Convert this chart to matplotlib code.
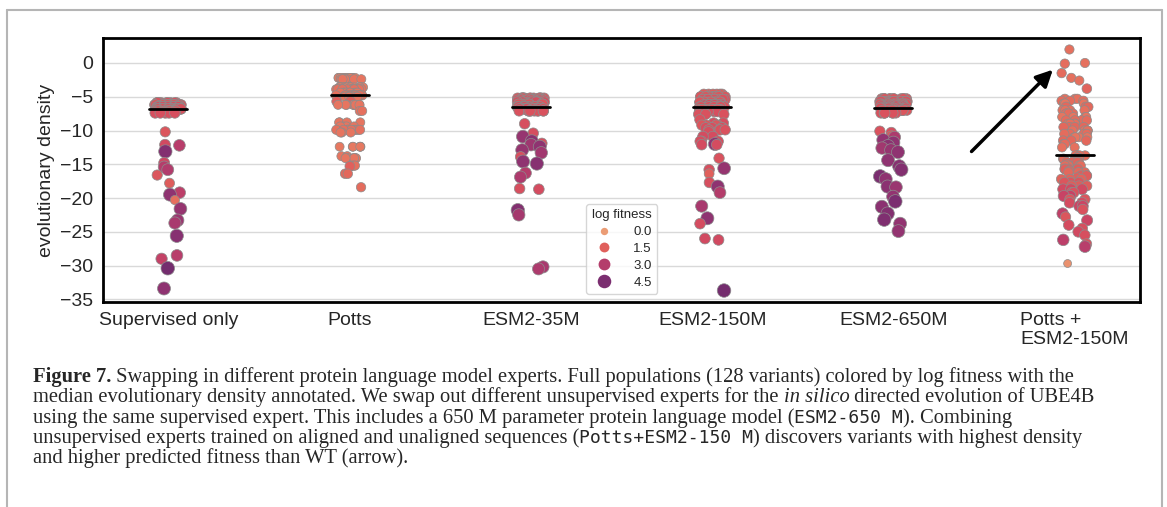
import numpy as np
import matplotlib.pyplot as plt
import seaborn as sns
from matplotlib.colors import Normalize
from matplotlib.lines import Line2D

categories = ["Supervised only", "Potts", "ESM2-35M", "ESM2-150M", "ESM2-650M", "Potts +\nESM2-150M"]

# evolutionary density of each variant, its log fitness, and how many variants share it
sup_y = [-5.9, -6.2, -6.5, -6.8, -7.1, -7.4, -10.2, -12.1, -12.2, -13.1, -14.8, -15.4, -15.8, -16.6,
         -17.8, -19.2, -19.5, -20.3, -21.6, -23.3, -23.7, -25.6, -28.5, -29.0, -30.4, -33.4]
sup_fit = [1.9, 1.8, 2.0, 1.9, 1.8, 2.0, 1.8, 2.2, 2.9, 4.3, 2.3, 3.0, 3.1, 1.8,
           1.6, 2.8, 4.0, 1.1, 3.8, 3.7, 3.3, 4.2, 2.9, 2.6, 4.7, 4.0]
sup_n = [10, 20, 25, 30, 18, 5] + [1] * 20

potts_y = [-2.2, -2.4, -3.6, -3.9, -4.4, -4.8, -5.0, -5.7, -6.2, -7.1, -8.7, -8.8, -9.4, -9.9,
           -10.3, -12.4, -13.8, -14.1, -15.2, -15.3, -16.4, -18.4]
potts_fit = [0.9, 1.0, 0.9, 1.1, 1.0, 1.1, 1.0, 1.5, 1.0, 1.1, 0.3, 1.0, 1.0, 1.1,
             1.0, 0.9, 1.0, 1.0, 1.1, 1.5, 1.3, 1.2]
potts_n = [12, 6, 14, 12, 10, 12, 8, 2, 8, 2, 1, 3, 4, 10, 3, 6, 2, 6, 3, 1, 2, 1]

esm35_y = [-5.2, -5.5, -5.8, -6.1, -6.5, -6.8, -7.1, -9.0, -10.4, -10.9, -11.6, -11.9, -12.1, -12.4,
           -12.9, -13.3, -13.9, -14.6, -14.9, -16.3, -16.9, -18.6, -18.7, -21.8, -22.5, -30.2, -30.5]
esm35_fit = [1.8, 1.9, 2.0, 1.8, 1.9, 2.0, 1.9, 2.0, 2.0, 3.8, 4.1, 2.0, 3.6, 4.0,
             3.8, 3.5, 2.0, 4.0, 4.2, 3.0, 3.2, 2.0, 2.1, 4.3, 3.4, 3.3, 3.2]
esm35_n = [15, 20, 15, 12, 20, 16, 10] + [1] * 20

esm150_y = [-4.6, -5.0, -5.4, -5.8, -6.2, -6.5, -6.9, -7.2, -7.6, -8.4, -8.9, -9.2, -9.6, -9.9,
            -10.2, -10.9, -11.6, -12.0, -12.1, -14.1, -15.6, -15.8, -16.4, -17.7, -18.3, -19.2,
            -21.2, -23.0, -23.8, -26.0, -26.2, -33.7]
esm150_fit = [1.6, 1.8, 1.9, 1.8, 2.0, 1.9, 1.8, 2.0, 1.9, 1.9, 2.0, 1.8, 2.0, 1.9,
              2.0, 2.1, 2.0, 4.0, 2.1, 1.9, 3.8, 2.0, 1.5, 2.0, 4.0, 3.0,
              3.3, 4.0, 2.1, 2.2, 2.2, 4.7]
esm150_n = [6, 12, 15, 15, 12, 12, 10, 6, 3, 1, 2, 4, 4, 4, 1, 2, 3, 1, 2] + [1] * 13

esm650_y = [-5.3, -5.7, -6.1, -6.4, -6.7, -7.0, -7.4, -10.1, -10.3, -10.8, -11.0, -11.4, -11.8, -12.3,
            -12.6, -12.9, -13.2, -14.4, -15.3, -15.8, -16.8, -17.2, -18.3, -18.4, -19.8, -20.5,
            -21.3, -22.3, -23.2, -23.8, -24.9]
esm650_fit = [1.8, 1.9, 1.8, 2.0, 1.9, 1.8, 1.9, 1.9, 2.0, 1.8, 3.2, 3.9, 4.0, 4.1,
              3.5, 3.8, 4.0, 4.0, 4.2, 4.3, 4.5, 4.0, 4.1, 3.7, 3.9, 4.5,
              4.1, 4.3, 4.4, 3.9, 3.9]
esm650_n = [12, 18, 18, 15, 20, 14, 7] + [1] * 24

combo_y = [2.0, 0.0, -0.1, -1.5, -2.2, -2.6, -3.8, -5.3, -5.6, -6.0, -6.5, -7.0, -7.5, -8.0,
           -8.5, -9.0, -9.5, -10.0, -10.5, -11.0, -11.5, -12.0, -12.5, -13.7,
           -14.0, -14.2, -14.7, -15.0, -15.2, -15.7, -16.0, -16.2, -16.7, -17.0, -17.2, -17.7,
           -18.2, -18.7, -19.2, -19.7, -20.2, -20.7, -21.2, -21.7, -22.3, -22.8, -23.3, -24.0,
           -24.5, -25.0, -25.5, -26.2, -26.8, -27.2, -29.7]
combo_fit = [1.1, 1.1, 1.2, 1.2, 1.1, 1.1, 1.4, 1.1, 1.2, 1.0, 1.3, 1.1, 1.2, 1.0,
             1.2, 1.1, 1.3, 1.1, 1.2, 1.0, 1.3, 1.2, 1.1, 1.2,
             1.3, 1.2, 1.4, 1.3, 1.2, 1.5, 1.4, 1.3, 1.6, 1.5, 1.4, 1.8,
             1.6, 2.2, 1.9, 2.5, 1.8, 2.1, 2.4, 1.9, 2.7, 1.8, 2.4, 2.1,
             2.0, 2.2, 2.0, 2.8, 1.9, 2.9, 0.3]
combo_n = [1, 1, 1, 1, 1, 1, 1, 3, 3, 3, 3, 4, 4, 4, 4, 4, 4, 4, 4, 4, 3, 2, 2, 4,
           2, 4, 4, 1, 4, 4, 1, 4, 3, 1, 3, 3, 3, 3, 2, 2, 2, 2, 2] + [1] * 12

legend_values = [0.0, 1.5, 3.0, 4.5]

groups = [(sup_y, sup_fit, sup_n), (potts_y, potts_fit, potts_n), (esm35_y, esm35_fit, esm35_n),
          (esm150_y, esm150_fit, esm150_n), (esm650_y, esm650_fit, esm650_n),
          (combo_y, combo_fit, combo_n)]

cmap = sns.color_palette("flare", as_cmap=True)
norm = Normalize(-0.5, 5.8)

def marker_area(f):
    f = np.clip(np.asarray(f, dtype=float), 0, 4.5)
    return 28 + (95 - 28) * f / 4.5

sns.set_style("whitegrid")
plt.rcParams['font.family'] = ['Liberation Sans', 'DejaVu Sans']
plt.rcParams['axes.unicode_minus'] = True

W, H = 1167, 507
fig = plt.figure(figsize=(W / 100, H / 100), dpi=100)
ax = fig.add_axes([103 / W, 1 - 302 / H, (1140 - 103) / W, (302 - 38) / H])

rng = np.random.default_rng(3)
for i, (y, f, n) in enumerate(groups):
    yy = np.repeat(y, n)
    ff = np.repeat(f, n)
    xx = i + rng.uniform(-0.075, 0.075, len(yy))
    ax.scatter(xx, yy, c=ff, cmap=cmap, norm=norm, s=marker_area(ff),
               edgecolor='#8c8c8c', linewidth=0.5, zorder=3)
    med = np.median(yy)
    ax.plot([i - 0.105, i + 0.105], [med, med], color='black', lw=2, zorder=4)

ax.set_xlim(-0.36, 5.36)
ax.set_ylim(-35.4, 3.7)
ax.set_yticks([0, -5, -10, -15, -20, -25, -30, -35])
ax.set_xticks(range(len(categories)))
ax.set_xticklabels(categories, fontsize=14)
ax.get_xticklabels()[-1].set_multialignment('left')
ax.tick_params(axis='y', labelsize=14, length=0, pad=7)
ax.tick_params(axis='x', length=0, pad=7)
ax.set_ylabel("evolutionary density", fontsize=14, labelpad=4)
ax.grid(axis='x', visible=False)
ax.grid(axis='y', color='#d9d9d9', lw=1)
for sp in ax.spines.values():
    sp.set_color('black')
    sp.set_linewidth(2)

ax.annotate('', xy=(4.89, -0.7), xytext=(4.42, -13.4),
            arrowprops=dict(arrowstyle='-|>', color='black', lw=2.5, mutation_scale=25))

handles = [Line2D([], [], marker='o', ls='', markersize=np.sqrt(marker_area(v)),
                  markerfacecolor=cmap(norm(v)), markeredgecolor='none') for v in legend_values]
ax.legend(handles, [f"{v:.1f}" for v in legend_values], title="log fitness", loc='lower center',
          bbox_to_anchor=(0.5, 0.005), fontsize=9.5, title_fontsize=9.5, frameon=True,
          handletextpad=1.2, labelspacing=0.35, borderpad=0.4)

# page frame
frame_kw = dict(color='#b5b5b5', lw=1.5, transform=fig.transFigure)
fig.add_artist(Line2D([7 / W, 1162 / W], [1 - 10 / H, 1 - 10 / H], **frame_kw))
fig.add_artist(Line2D([7 / W, 7 / W], [0, 1 - 10 / H], **frame_kw))
fig.add_artist(Line2D([1162 / W, 1162 / W], [0, 1 - 10 / H], **frame_kw))

# caption
renderer = fig.canvas.get_renderer()
serif = dict(family=['Liberation Serif', 'DejaVu Serif'], fontsize=14.8)
bold = dict(serif, weight='bold')
ital = dict(serif, style='italic')
mono = dict(family=['DejaVu Sans Mono'], fontsize=13)

def run_width(s, kw):
    a = fig.text(0, 0, 'x' + s + 'x', **kw)
    b = fig.text(0, 0, 'xx', **kw)
    w = a.get_window_extent(renderer).width - b.get_window_extent(renderer).width
    a.remove()
    b.remove()
    return w

caption = [
    [("Figure 7.", bold), (" Swapping in different protein language model experts. Full populations "
                          "(128 variants) colored by log fitness with the", serif)],
    [("median evolutionary density annotated. We swap out different unsupervised experts for the ", serif),
     ("in silico", ital), (" directed evolution of UBE4B", serif)],
    [("using the same supervised expert. This includes a 650 M parameter protein language model (", serif),
     ("ESM2-650 M", mono), ("). Combining", serif)],
    [("unsupervised experts trained on aligned and unaligned sequences (", serif),
     ("Potts+ESM2-150 M", mono), (") discovers variants with highest density", serif)],
    [("and higher predicted fitness than WT (arrow).", serif)],
]
for k, runs in enumerate(caption):
    x = 33
    base = 382 + 20.3 * k
    for s, kw in runs:
        fig.text(x / W, 1 - base / H, s, va='baseline', ha='left', **kw)
        x += run_width(s, kw)

fig.savefig("out.png", dpi=100)
